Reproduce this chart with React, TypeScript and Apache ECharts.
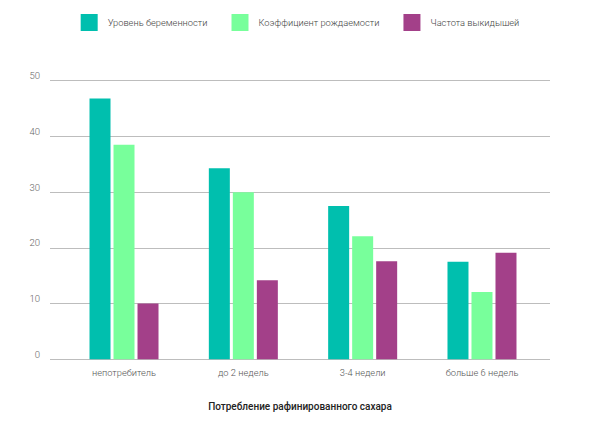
import React, { useEffect, useRef } from "react";
import * as echarts from "echarts";

const categories = ["непотребитель", "до 2 недель", "3-4 недели", "больше 6 недель"];
const seriesNames = ["Уровень беременности", "Коэффициент рождаемости", "Частота выкидышей"];
const pregnancy = [46.8, 34.3, 27.5, 17.5];
const birthRate = [38.5, 30, 22.1, 12.1];
const miscarriage = [10, 14.2, 17.6, 19.1];
const colors = ["#00bfae", "#78ff9b", "#a34089"];
const axisTitle = "Потребление рафинированного сахара";

export default function App() {
  const ref = useRef<HTMLDivElement>(null);
  useEffect(() => {
    if (!ref.current) return;
    const chart = echarts.init(ref.current, undefined, { renderer: "svg" });
    const font = "Roboto";
    const values = [pregnancy, birthRate, miscarriage];
    chart.setOption({
      animation: false,
      backgroundColor: "#ffffff",
      textStyle: { fontFamily: font },
      title: {
        text: axisTitle,
        left: "center",
        top: 396,
        textStyle: { fontSize: 10, fontWeight: 500, color: "#222", fontFamily: font },
      },
      legend: {
        top: 9,
        left: "center",
        icon: "rect",
        itemWidth: 17,
        itemHeight: 17,
        itemGap: 24,
        textStyle: { fontSize: 9.3, fontWeight: 300, color: "#444", fontFamily: font, padding: [0, 0, 0, 5] },
        data: seriesNames,
      },
      grid: [
        { left: 50, right: 50, top: 80.7, bottom: 68.7 },
        { left: 64.35, right: 58.35, top: 80.7, bottom: 68.7 },
      ],
      xAxis: [
        { type: "category", gridIndex: 0, data: categories, show: false },
        {
          type: "category",
          gridIndex: 1,
          data: categories,
          axisLine: { show: false },
          axisTick: { show: false },
          axisLabel: { color: "#555", fontSize: 9.3, fontWeight: 300, margin: 9, fontFamily: font },
        },
      ],
      yAxis: [
        {
          type: "value",
          gridIndex: 0,
          min: 0,
          max: 50,
          interval: 10,
          axisLine: { show: false },
          axisTick: { show: false },
          splitLine: { lineStyle: { color: "#bdbdbd", width: 1 } },
          axisLabel: {
            color: "#666",
            fontSize: 9.5,
            fontWeight: 300,
            margin: 10,
            verticalAlign: "bottom",
            fontFamily: font,
          },
        },
        { type: "value", gridIndex: 1, min: 0, max: 50, interval: 10, show: false },
      ],
      series: seriesNames.map((name, i) => ({
        name,
        type: "bar",
        xAxisIndex: 1,
        yAxisIndex: 1,
        data: values[i],
        barWidth: 21,
        barGap: "14.3%",
        itemStyle: { color: colors[i] },
      })),
    });
    return () => chart.dispose();
  }, []);
  return (
    <div
      ref={ref}
      style={{ position: "fixed", left: 0, top: 0, width: 600, height: 428 }}
    />
  );
}
